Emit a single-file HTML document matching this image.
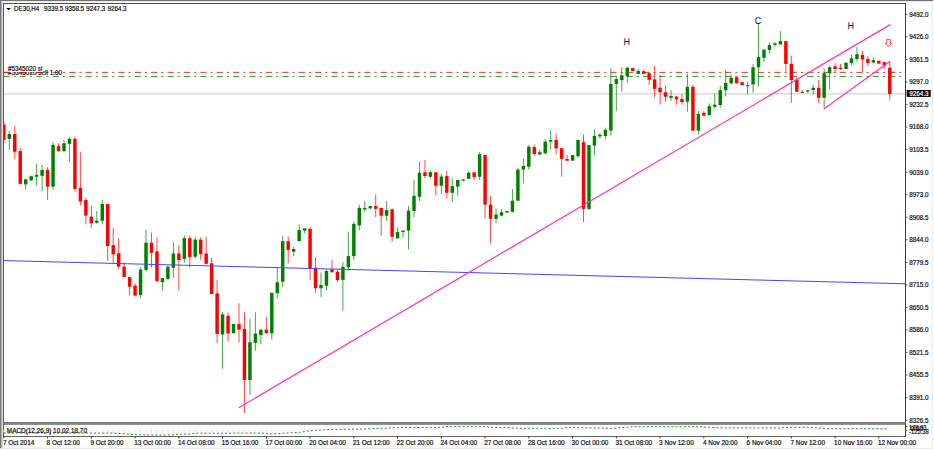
<!DOCTYPE html><html><head><meta charset="utf-8"><title>DE30,H4</title><style>
html,body{margin:0;padding:0;background:#fff;overflow:hidden}
svg{display:block;position:absolute;left:0;top:0}
text{font-family:"Liberation Sans",Arial,sans-serif;fill:#0a0a0a}
.ax{font-size:6.42px;stroke:#0a0a0a;stroke-width:0.18px}
.lb{text-rendering:geometricPrecision;font-size:9.8px;fill:#18172f}
</style></head><body>
<svg width="934" height="450" viewBox="0 0 934 450">
<rect x="0" y="0" width="934" height="450" fill="#fff"/>
<rect x="0" y="0" width="933" height="1" fill="#727272"/>
<rect x="0" y="0" width="1" height="448.3" fill="#767676"/>
<rect x="1" y="1" width="1" height="447.3" fill="#b4b4b4"/>
<rect x="2" y="1" width="1" height="447.3" fill="#dcdcdc"/>
<rect x="1" y="1" width="932" height="0.6" fill="#dcdcdc"/>
<rect x="1" y="447.8" width="931.5" height="0.9" fill="#e3e3e3"/>
<rect x="931.7" y="1" width="0.9" height="447.5" fill="#e6e6e6"/>
<defs><clipPath id="cp"><rect x="4" y="4" width="901" height="418"/></clipPath></defs>
<g clip-path="url(#cp)">
<line x1="4" y1="93.9" x2="905" y2="93.9" stroke="#c4c4c4" stroke-width="0.9"/>
<line x1="3.5" y1="72.4" x2="905" y2="72.4" stroke="#ff0000" stroke-width="0.82" stroke-dasharray="6.15 4.1 2.05 4.1"/>
<line x1="3.5" y1="76.42" x2="905" y2="76.42" stroke="#008000" stroke-width="0.82" stroke-dasharray="6.15 4.1 2.05 4.1"/>
<line x1="3.83" y1="121.0" x2="3.83" y2="143.0" stroke="#ff0000" stroke-width="0.72"/>
<rect x="2.11" y="124.4" width="3.44" height="15.6" fill="#ff0000"/>
<line x1="9.30" y1="131.1" x2="9.30" y2="150.0" stroke="#008000" stroke-width="0.72"/>
<rect x="7.58" y="134.0" width="3.44" height="4.9" fill="#008000"/>
<line x1="14.77" y1="126.2" x2="14.77" y2="158.9" stroke="#ff0000" stroke-width="0.72"/>
<rect x="13.05" y="134.0" width="3.44" height="17.8" fill="#ff0000"/>
<line x1="20.24" y1="147.8" x2="20.24" y2="184.4" stroke="#ff0000" stroke-width="0.72"/>
<rect x="18.52" y="151.1" width="3.44" height="32.7" fill="#ff0000"/>
<line x1="25.71" y1="179.3" x2="25.71" y2="189.6" stroke="#008000" stroke-width="0.72"/>
<rect x="23.99" y="179.3" width="3.44" height="5.1" fill="#008000"/>
<line x1="31.17" y1="175.5" x2="31.17" y2="181.1" stroke="#008000" stroke-width="0.72"/>
<rect x="29.45" y="176.2" width="3.44" height="4.2" fill="#008000"/>
<line x1="36.64" y1="164.0" x2="36.64" y2="185.6" stroke="#008000" stroke-width="0.72"/>
<rect x="34.92" y="174.9" width="3.44" height="1.8" fill="#008000"/>
<line x1="42.11" y1="164.9" x2="42.11" y2="191.3" stroke="#008000" stroke-width="0.72"/>
<rect x="40.39" y="170.0" width="3.44" height="5.8" fill="#008000"/>
<line x1="47.58" y1="167.3" x2="47.58" y2="200.0" stroke="#ff0000" stroke-width="0.72"/>
<rect x="45.86" y="170.0" width="3.44" height="16.7" fill="#ff0000"/>
<line x1="53.05" y1="142.2" x2="53.05" y2="190.0" stroke="#008000" stroke-width="0.72"/>
<rect x="51.33" y="144.9" width="3.44" height="41.8" fill="#008000"/>
<line x1="58.52" y1="143.3" x2="58.52" y2="151.8" stroke="#ff0000" stroke-width="0.72"/>
<rect x="56.80" y="146.2" width="3.44" height="4.9" fill="#ff0000"/>
<line x1="63.99" y1="140.0" x2="63.99" y2="151.8" stroke="#008000" stroke-width="0.72"/>
<rect x="62.27" y="143.3" width="3.44" height="7.8" fill="#008000"/>
<line x1="69.46" y1="136.7" x2="69.46" y2="161.6" stroke="#008000" stroke-width="0.72"/>
<rect x="67.74" y="138.9" width="3.44" height="4.9" fill="#008000"/>
<line x1="74.92" y1="136.7" x2="74.92" y2="191.6" stroke="#ff0000" stroke-width="0.72"/>
<rect x="73.20" y="138.9" width="3.44" height="50.0" fill="#ff0000"/>
<line x1="80.39" y1="151.8" x2="80.39" y2="205.6" stroke="#ff0000" stroke-width="0.72"/>
<rect x="78.67" y="187.8" width="3.44" height="13.8" fill="#ff0000"/>
<line x1="85.86" y1="197.8" x2="85.86" y2="224.4" stroke="#ff0000" stroke-width="0.72"/>
<rect x="84.14" y="200.0" width="3.44" height="15.6" fill="#ff0000"/>
<line x1="91.33" y1="205.6" x2="91.33" y2="227.8" stroke="#ff0000" stroke-width="0.72"/>
<rect x="89.61" y="216.7" width="3.44" height="6.6" fill="#ff0000"/>
<line x1="96.80" y1="211.1" x2="96.80" y2="223.8" stroke="#008000" stroke-width="0.72"/>
<rect x="95.08" y="220.7" width="3.44" height="2.0" fill="#008000"/>
<line x1="102.27" y1="199.6" x2="102.27" y2="224.4" stroke="#008000" stroke-width="0.72"/>
<rect x="100.55" y="204.0" width="3.44" height="16.7" fill="#008000"/>
<line x1="107.74" y1="204.0" x2="107.74" y2="261.0" stroke="#ff0000" stroke-width="0.72"/>
<rect x="106.02" y="204.0" width="3.44" height="42.0" fill="#ff0000"/>
<line x1="113.21" y1="227.8" x2="113.21" y2="263.3" stroke="#ff0000" stroke-width="0.72"/>
<rect x="111.49" y="245.1" width="3.44" height="9.3" fill="#ff0000"/>
<line x1="118.67" y1="238.2" x2="118.67" y2="268.9" stroke="#ff0000" stroke-width="0.72"/>
<rect x="116.95" y="253.3" width="3.44" height="13.4" fill="#ff0000"/>
<line x1="124.14" y1="262.2" x2="124.14" y2="277.0" stroke="#ff0000" stroke-width="0.72"/>
<rect x="122.42" y="266.7" width="3.44" height="10.3" fill="#ff0000"/>
<line x1="129.61" y1="277.2" x2="129.61" y2="295.1" stroke="#ff0000" stroke-width="0.72"/>
<rect x="127.89" y="277.2" width="3.44" height="9.5" fill="#ff0000"/>
<line x1="135.08" y1="283.3" x2="135.08" y2="295.6" stroke="#ff0000" stroke-width="0.72"/>
<rect x="133.36" y="285.6" width="3.44" height="10.0" fill="#ff0000"/>
<line x1="140.55" y1="267.3" x2="140.55" y2="297.8" stroke="#008000" stroke-width="0.72"/>
<rect x="138.83" y="269.5" width="3.44" height="25.6" fill="#008000"/>
<line x1="146.02" y1="230.0" x2="146.02" y2="271.6" stroke="#008000" stroke-width="0.72"/>
<rect x="144.30" y="242.7" width="3.44" height="27.3" fill="#008000"/>
<line x1="151.49" y1="232.7" x2="151.49" y2="267.5" stroke="#ff0000" stroke-width="0.72"/>
<rect x="149.77" y="242.7" width="3.44" height="10.1" fill="#ff0000"/>
<line x1="156.96" y1="237.3" x2="156.96" y2="282.2" stroke="#ff0000" stroke-width="0.72"/>
<rect x="155.24" y="251.4" width="3.44" height="29.7" fill="#ff0000"/>
<line x1="162.43" y1="278.0" x2="162.43" y2="290.7" stroke="#008000" stroke-width="0.72"/>
<rect x="160.71" y="278.0" width="3.44" height="4.2" fill="#008000"/>
<line x1="167.89" y1="265.6" x2="167.89" y2="280.0" stroke="#008000" stroke-width="0.72"/>
<rect x="166.17" y="266.7" width="3.44" height="12.2" fill="#008000"/>
<line x1="173.36" y1="242.2" x2="173.36" y2="277.8" stroke="#008000" stroke-width="0.72"/>
<rect x="171.64" y="253.5" width="3.44" height="14.3" fill="#008000"/>
<line x1="178.83" y1="245.6" x2="178.83" y2="290.7" stroke="#ff0000" stroke-width="0.72"/>
<rect x="177.11" y="253.5" width="3.44" height="6.5" fill="#ff0000"/>
<line x1="184.30" y1="235.6" x2="184.30" y2="262.7" stroke="#008000" stroke-width="0.72"/>
<rect x="182.58" y="238.2" width="3.44" height="20.7" fill="#008000"/>
<line x1="189.77" y1="235.6" x2="189.77" y2="267.8" stroke="#ff0000" stroke-width="0.72"/>
<rect x="188.05" y="238.2" width="3.44" height="18.9" fill="#ff0000"/>
<line x1="195.24" y1="236.7" x2="195.24" y2="258.7" stroke="#008000" stroke-width="0.72"/>
<rect x="193.52" y="239.6" width="3.44" height="17.1" fill="#008000"/>
<line x1="200.71" y1="237.3" x2="200.71" y2="260.0" stroke="#ff0000" stroke-width="0.72"/>
<rect x="198.99" y="239.6" width="3.44" height="14.6" fill="#ff0000"/>
<line x1="206.18" y1="236.7" x2="206.18" y2="264.4" stroke="#ff0000" stroke-width="0.72"/>
<rect x="204.46" y="253.5" width="3.44" height="10.3" fill="#ff0000"/>
<line x1="211.64" y1="257.8" x2="211.64" y2="294.4" stroke="#ff0000" stroke-width="0.72"/>
<rect x="209.92" y="263.3" width="3.44" height="30.7" fill="#ff0000"/>
<line x1="217.11" y1="280.0" x2="217.11" y2="343.3" stroke="#ff0000" stroke-width="0.72"/>
<rect x="215.39" y="293.3" width="3.44" height="40.7" fill="#ff0000"/>
<line x1="222.58" y1="312.2" x2="222.58" y2="368.9" stroke="#008000" stroke-width="0.72"/>
<rect x="220.86" y="314.4" width="3.44" height="20.0" fill="#008000"/>
<line x1="228.05" y1="312.4" x2="228.05" y2="341.6" stroke="#ff0000" stroke-width="0.72"/>
<rect x="226.33" y="315.8" width="3.44" height="17.7" fill="#ff0000"/>
<rect x="231.80" y="324.0" width="3.44" height="9.3" fill="#008000"/>
<line x1="238.99" y1="303.3" x2="238.99" y2="342.7" stroke="#ff0000" stroke-width="0.72"/>
<rect x="237.27" y="324.0" width="3.44" height="5.6" fill="#ff0000"/>
<line x1="244.46" y1="312.5" x2="244.46" y2="413.0" stroke="#ff0000" stroke-width="0.72"/>
<rect x="242.74" y="328.9" width="3.44" height="51.1" fill="#ff0000"/>
<line x1="249.93" y1="318.9" x2="249.93" y2="395.0" stroke="#008000" stroke-width="0.72"/>
<rect x="248.21" y="342.2" width="3.44" height="37.8" fill="#008000"/>
<line x1="255.39" y1="312.2" x2="255.39" y2="350.7" stroke="#008000" stroke-width="0.72"/>
<rect x="253.67" y="333.6" width="3.44" height="9.3" fill="#008000"/>
<line x1="260.86" y1="329.6" x2="260.86" y2="344.4" stroke="#008000" stroke-width="0.72"/>
<rect x="259.14" y="329.6" width="3.44" height="5.5" fill="#008000"/>
<line x1="266.33" y1="316.7" x2="266.33" y2="333.3" stroke="#ff0000" stroke-width="0.72"/>
<rect x="264.61" y="329.6" width="3.44" height="3.7" fill="#ff0000"/>
<line x1="271.80" y1="292.8" x2="271.80" y2="339.6" stroke="#008000" stroke-width="0.72"/>
<rect x="270.08" y="292.8" width="3.44" height="40.5" fill="#008000"/>
<line x1="277.27" y1="267.2" x2="277.27" y2="298.3" stroke="#008000" stroke-width="0.72"/>
<rect x="275.55" y="282.3" width="3.44" height="10.9" fill="#008000"/>
<line x1="282.74" y1="236.1" x2="282.74" y2="286.8" stroke="#008000" stroke-width="0.72"/>
<rect x="281.02" y="241.2" width="3.44" height="40.5" fill="#008000"/>
<line x1="288.21" y1="236.6" x2="288.21" y2="263.4" stroke="#ff0000" stroke-width="0.72"/>
<rect x="286.49" y="241.2" width="3.44" height="8.7" fill="#ff0000"/>
<line x1="293.68" y1="247.2" x2="293.68" y2="256.1" stroke="#008000" stroke-width="0.72"/>
<rect x="291.96" y="249.0" width="3.44" height="2.7" fill="#008000"/>
<line x1="299.15" y1="224.3" x2="299.15" y2="241.2" stroke="#008000" stroke-width="0.72"/>
<rect x="297.43" y="230.1" width="3.44" height="11.1" fill="#008000"/>
<line x1="304.61" y1="228.3" x2="304.61" y2="233.2" stroke="#008000" stroke-width="0.72"/>
<rect x="302.89" y="228.3" width="3.44" height="2.3" fill="#008000"/>
<line x1="310.08" y1="227.2" x2="310.08" y2="279.9" stroke="#ff0000" stroke-width="0.72"/>
<rect x="308.36" y="228.8" width="3.44" height="39.5" fill="#ff0000"/>
<line x1="315.55" y1="257.2" x2="315.55" y2="292.8" stroke="#ff0000" stroke-width="0.72"/>
<rect x="313.83" y="267.7" width="3.44" height="20.6" fill="#ff0000"/>
<line x1="321.02" y1="272.3" x2="321.02" y2="297.2" stroke="#008000" stroke-width="0.72"/>
<rect x="319.30" y="285.0" width="3.44" height="3.3" fill="#008000"/>
<line x1="326.49" y1="269.4" x2="326.49" y2="290.6" stroke="#008000" stroke-width="0.72"/>
<rect x="324.77" y="271.0" width="3.44" height="14.7" fill="#008000"/>
<line x1="331.96" y1="260.1" x2="331.96" y2="272.3" stroke="#ff0000" stroke-width="0.72"/>
<rect x="330.24" y="269.4" width="3.44" height="2.9" fill="#ff0000"/>
<line x1="337.43" y1="269.0" x2="337.43" y2="281.7" stroke="#ff0000" stroke-width="0.72"/>
<rect x="335.71" y="271.7" width="3.44" height="8.4" fill="#ff0000"/>
<line x1="342.90" y1="262.1" x2="342.90" y2="310.6" stroke="#008000" stroke-width="0.72"/>
<rect x="341.18" y="266.8" width="3.44" height="13.1" fill="#008000"/>
<line x1="348.36" y1="231.5" x2="348.36" y2="270.6" stroke="#008000" stroke-width="0.72"/>
<rect x="346.64" y="256.1" width="3.44" height="11.1" fill="#008000"/>
<line x1="353.83" y1="221.7" x2="353.83" y2="260.1" stroke="#008000" stroke-width="0.72"/>
<rect x="352.11" y="223.9" width="3.44" height="32.2" fill="#008000"/>
<line x1="359.30" y1="204.6" x2="359.30" y2="230.4" stroke="#008000" stroke-width="0.72"/>
<rect x="357.58" y="207.9" width="3.44" height="17.5" fill="#008000"/>
<line x1="364.77" y1="201.2" x2="364.77" y2="211.7" stroke="#008000" stroke-width="0.72"/>
<rect x="363.05" y="207.9" width="3.44" height="1.5" fill="#008000"/>
<line x1="370.24" y1="206.1" x2="370.24" y2="209.4" stroke="#008000" stroke-width="0.72"/>
<rect x="368.52" y="206.1" width="3.44" height="2.2" fill="#008000"/>
<line x1="375.71" y1="194.3" x2="375.71" y2="217.2" stroke="#ff0000" stroke-width="0.72"/>
<rect x="373.99" y="206.1" width="3.44" height="2.7" fill="#ff0000"/>
<line x1="381.18" y1="207.9" x2="381.18" y2="235.7" stroke="#ff0000" stroke-width="0.72"/>
<rect x="379.46" y="207.9" width="3.44" height="7.8" fill="#ff0000"/>
<line x1="386.65" y1="201.0" x2="386.65" y2="221.0" stroke="#008000" stroke-width="0.72"/>
<rect x="384.93" y="210.1" width="3.44" height="5.6" fill="#008000"/>
<line x1="392.11" y1="208.3" x2="392.11" y2="241.7" stroke="#ff0000" stroke-width="0.72"/>
<rect x="390.39" y="209.4" width="3.44" height="27.4" fill="#ff0000"/>
<line x1="397.58" y1="227.2" x2="397.58" y2="239.0" stroke="#008000" stroke-width="0.72"/>
<rect x="395.86" y="232.1" width="3.44" height="6.2" fill="#008000"/>
<line x1="403.05" y1="230.6" x2="403.05" y2="237.6" stroke="#008000" stroke-width="0.72"/>
<rect x="401.33" y="230.6" width="3.44" height="1.5" fill="#008000"/>
<line x1="408.52" y1="206.1" x2="408.52" y2="249.4" stroke="#008000" stroke-width="0.72"/>
<rect x="406.80" y="210.6" width="3.44" height="20.0" fill="#008000"/>
<line x1="413.99" y1="179.4" x2="413.99" y2="217.2" stroke="#008000" stroke-width="0.72"/>
<rect x="412.27" y="195.7" width="3.44" height="15.3" fill="#008000"/>
<line x1="419.46" y1="161.2" x2="419.46" y2="201.0" stroke="#008000" stroke-width="0.72"/>
<rect x="417.74" y="172.8" width="3.44" height="24.0" fill="#008000"/>
<line x1="424.93" y1="160.1" x2="424.93" y2="178.3" stroke="#ff0000" stroke-width="0.72"/>
<rect x="423.21" y="172.3" width="3.44" height="3.8" fill="#ff0000"/>
<line x1="430.40" y1="170.1" x2="430.40" y2="178.3" stroke="#008000" stroke-width="0.72"/>
<rect x="428.68" y="172.1" width="3.44" height="4.7" fill="#008000"/>
<line x1="435.87" y1="172.3" x2="435.87" y2="195.4" stroke="#ff0000" stroke-width="0.72"/>
<rect x="434.15" y="172.3" width="3.44" height="13.4" fill="#ff0000"/>
<line x1="441.33" y1="173.9" x2="441.33" y2="193.9" stroke="#008000" stroke-width="0.72"/>
<rect x="439.61" y="176.6" width="3.44" height="9.1" fill="#008000"/>
<line x1="446.80" y1="170.6" x2="446.80" y2="198.3" stroke="#ff0000" stroke-width="0.72"/>
<rect x="445.08" y="176.1" width="3.44" height="16.7" fill="#ff0000"/>
<line x1="452.27" y1="178.3" x2="452.27" y2="202.1" stroke="#008000" stroke-width="0.72"/>
<rect x="450.55" y="186.1" width="3.44" height="6.7" fill="#008000"/>
<line x1="457.74" y1="179.9" x2="457.74" y2="195.7" stroke="#008000" stroke-width="0.72"/>
<rect x="456.02" y="179.9" width="3.44" height="6.7" fill="#008000"/>
<line x1="463.21" y1="179.4" x2="463.21" y2="181.7" stroke="#008000" stroke-width="0.72"/>
<rect x="461.49" y="179.4" width="3.44" height="1.2" fill="#008000"/>
<line x1="468.68" y1="171.0" x2="468.68" y2="178.8" stroke="#008000" stroke-width="0.72"/>
<rect x="466.96" y="172.8" width="3.44" height="6.0" fill="#008000"/>
<line x1="474.15" y1="172.3" x2="474.15" y2="179.9" stroke="#ff0000" stroke-width="0.72"/>
<rect x="472.43" y="172.3" width="3.44" height="4.9" fill="#ff0000"/>
<line x1="479.62" y1="152.3" x2="479.62" y2="179.9" stroke="#008000" stroke-width="0.72"/>
<rect x="477.90" y="154.3" width="3.44" height="22.5" fill="#008000"/>
<line x1="485.08" y1="155.0" x2="485.08" y2="218.3" stroke="#ff0000" stroke-width="0.72"/>
<rect x="483.36" y="155.0" width="3.44" height="49.6" fill="#ff0000"/>
<line x1="490.55" y1="196.1" x2="490.55" y2="243.4" stroke="#ff0000" stroke-width="0.72"/>
<rect x="488.83" y="204.6" width="3.44" height="14.2" fill="#ff0000"/>
<line x1="496.02" y1="208.5" x2="496.02" y2="223.3" stroke="#008000" stroke-width="0.72"/>
<rect x="494.30" y="214.6" width="3.44" height="4.3" fill="#008000"/>
<line x1="501.49" y1="208.9" x2="501.49" y2="216.2" stroke="#008000" stroke-width="0.72"/>
<rect x="499.77" y="212.2" width="3.44" height="3.4" fill="#008000"/>
<rect x="505.24" y="211.1" width="3.44" height="1.6" fill="#008000"/>
<line x1="512.43" y1="188.9" x2="512.43" y2="212.7" stroke="#008000" stroke-width="0.72"/>
<rect x="510.71" y="200.7" width="3.44" height="11.1" fill="#008000"/>
<line x1="517.90" y1="167.8" x2="517.90" y2="201.1" stroke="#008000" stroke-width="0.72"/>
<rect x="516.18" y="169.6" width="3.44" height="31.1" fill="#008000"/>
<line x1="523.37" y1="158.9" x2="523.37" y2="183.3" stroke="#008000" stroke-width="0.72"/>
<rect x="521.65" y="166.0" width="3.44" height="3.6" fill="#008000"/>
<line x1="528.83" y1="145.1" x2="528.83" y2="169.6" stroke="#008000" stroke-width="0.72"/>
<rect x="527.11" y="146.7" width="3.44" height="20.0" fill="#008000"/>
<line x1="534.30" y1="144.4" x2="534.30" y2="155.6" stroke="#ff0000" stroke-width="0.72"/>
<rect x="532.58" y="147.1" width="3.44" height="6.9" fill="#ff0000"/>
<line x1="539.77" y1="149.6" x2="539.77" y2="155.6" stroke="#008000" stroke-width="0.72"/>
<rect x="538.05" y="152.2" width="3.44" height="2.2" fill="#008000"/>
<line x1="545.24" y1="138.9" x2="545.24" y2="154.4" stroke="#008000" stroke-width="0.72"/>
<rect x="543.52" y="141.6" width="3.44" height="11.7" fill="#008000"/>
<line x1="550.71" y1="130.0" x2="550.71" y2="149.6" stroke="#008000" stroke-width="0.72"/>
<rect x="548.99" y="140.0" width="3.44" height="1.6" fill="#008000"/>
<line x1="556.18" y1="134.0" x2="556.18" y2="154.4" stroke="#ff0000" stroke-width="0.72"/>
<rect x="554.46" y="140.0" width="3.44" height="8.4" fill="#ff0000"/>
<line x1="561.65" y1="148.2" x2="561.65" y2="176.7" stroke="#ff0000" stroke-width="0.72"/>
<rect x="559.93" y="148.2" width="3.44" height="10.7" fill="#ff0000"/>
<line x1="567.12" y1="154.9" x2="567.12" y2="160.7" stroke="#ff0000" stroke-width="0.72"/>
<rect x="565.40" y="158.9" width="3.44" height="1.8" fill="#ff0000"/>
<rect x="570.87" y="155.1" width="3.44" height="5.6" fill="#008000"/>
<line x1="578.05" y1="140.0" x2="578.05" y2="157.8" stroke="#008000" stroke-width="0.72"/>
<rect x="576.33" y="140.0" width="3.44" height="16.2" fill="#008000"/>
<line x1="583.52" y1="134.4" x2="583.52" y2="222.2" stroke="#ff0000" stroke-width="0.72"/>
<rect x="581.80" y="142.2" width="3.44" height="66.7" fill="#ff0000"/>
<line x1="588.99" y1="145.1" x2="588.99" y2="210.0" stroke="#008000" stroke-width="0.72"/>
<rect x="587.27" y="145.1" width="3.44" height="63.8" fill="#008000"/>
<line x1="594.46" y1="129.4" x2="594.46" y2="155.6" stroke="#008000" stroke-width="0.72"/>
<rect x="592.74" y="135.9" width="3.44" height="9.7" fill="#008000"/>
<line x1="599.93" y1="133.3" x2="599.93" y2="138.6" stroke="#008000" stroke-width="0.72"/>
<rect x="598.21" y="134.7" width="3.44" height="1.7" fill="#008000"/>
<line x1="605.40" y1="127.7" x2="605.40" y2="139.4" stroke="#008000" stroke-width="0.72"/>
<rect x="603.68" y="129.9" width="3.44" height="6.1" fill="#008000"/>
<line x1="610.87" y1="68.3" x2="610.87" y2="135.7" stroke="#008000" stroke-width="0.72"/>
<rect x="609.15" y="83.9" width="3.44" height="46.7" fill="#008000"/>
<line x1="616.34" y1="76.1" x2="616.34" y2="111.2" stroke="#008000" stroke-width="0.72"/>
<rect x="614.62" y="79.0" width="3.44" height="4.9" fill="#008000"/>
<line x1="621.80" y1="67.2" x2="621.80" y2="91.7" stroke="#008000" stroke-width="0.72"/>
<rect x="620.08" y="75.4" width="3.44" height="4.7" fill="#008000"/>
<line x1="627.27" y1="66.6" x2="627.27" y2="83.2" stroke="#008000" stroke-width="0.72"/>
<rect x="625.55" y="67.7" width="3.44" height="8.4" fill="#008000"/>
<rect x="631.02" y="67.9" width="3.44" height="3.1" fill="#ff0000"/>
<line x1="638.21" y1="69.0" x2="638.21" y2="73.9" stroke="#008000" stroke-width="0.72"/>
<rect x="636.49" y="71.0" width="3.44" height="2.9" fill="#008000"/>
<line x1="643.68" y1="69.9" x2="643.68" y2="73.9" stroke="#ff0000" stroke-width="0.72"/>
<rect x="641.96" y="71.2" width="3.44" height="2.7" fill="#ff0000"/>
<line x1="649.15" y1="71.7" x2="649.15" y2="85.0" stroke="#ff0000" stroke-width="0.72"/>
<rect x="647.43" y="73.2" width="3.44" height="6.7" fill="#ff0000"/>
<line x1="654.62" y1="65.4" x2="654.62" y2="97.2" stroke="#ff0000" stroke-width="0.72"/>
<rect x="652.90" y="79.4" width="3.44" height="9.4" fill="#ff0000"/>
<line x1="660.09" y1="75.0" x2="660.09" y2="104.6" stroke="#ff0000" stroke-width="0.72"/>
<rect x="658.37" y="87.7" width="3.44" height="4.6" fill="#ff0000"/>
<line x1="665.55" y1="85.7" x2="665.55" y2="101.7" stroke="#ff0000" stroke-width="0.72"/>
<rect x="663.83" y="92.3" width="3.44" height="4.5" fill="#ff0000"/>
<line x1="671.02" y1="90.1" x2="671.02" y2="100.6" stroke="#008000" stroke-width="0.72"/>
<rect x="669.30" y="96.1" width="3.44" height="1.8" fill="#008000"/>
<line x1="676.49" y1="95.7" x2="676.49" y2="104.6" stroke="#ff0000" stroke-width="0.72"/>
<rect x="674.77" y="96.6" width="3.44" height="2.8" fill="#ff0000"/>
<line x1="681.96" y1="93.9" x2="681.96" y2="104.6" stroke="#ff0000" stroke-width="0.72"/>
<rect x="680.24" y="99.0" width="3.44" height="3.1" fill="#ff0000"/>
<line x1="687.43" y1="73.9" x2="687.43" y2="111.7" stroke="#008000" stroke-width="0.72"/>
<rect x="685.71" y="86.8" width="3.44" height="14.9" fill="#008000"/>
<line x1="692.90" y1="85.0" x2="692.90" y2="130.6" stroke="#ff0000" stroke-width="0.72"/>
<rect x="691.18" y="86.8" width="3.44" height="43.8" fill="#ff0000"/>
<line x1="698.37" y1="111.0" x2="698.37" y2="134.6" stroke="#008000" stroke-width="0.72"/>
<rect x="696.65" y="113.9" width="3.44" height="16.7" fill="#008000"/>
<line x1="703.84" y1="111.2" x2="703.84" y2="116.6" stroke="#ff0000" stroke-width="0.72"/>
<rect x="702.12" y="112.8" width="3.44" height="2.9" fill="#ff0000"/>
<line x1="709.31" y1="103.4" x2="709.31" y2="115.7" stroke="#008000" stroke-width="0.72"/>
<rect x="707.59" y="106.1" width="3.44" height="8.9" fill="#008000"/>
<line x1="714.77" y1="93.4" x2="714.77" y2="108.8" stroke="#008000" stroke-width="0.72"/>
<rect x="713.05" y="104.7" width="3.44" height="2.1" fill="#008000"/>
<line x1="720.24" y1="85.8" x2="720.24" y2="107.7" stroke="#008000" stroke-width="0.72"/>
<rect x="718.52" y="90.1" width="3.44" height="14.9" fill="#008000"/>
<line x1="725.71" y1="70.1" x2="725.71" y2="96.6" stroke="#008000" stroke-width="0.72"/>
<rect x="723.99" y="83.0" width="3.44" height="7.2" fill="#008000"/>
<line x1="731.18" y1="74.4" x2="731.18" y2="84.4" stroke="#008000" stroke-width="0.72"/>
<rect x="729.46" y="77.8" width="3.44" height="5.5" fill="#008000"/>
<line x1="736.65" y1="76.2" x2="736.65" y2="83.3" stroke="#ff0000" stroke-width="0.72"/>
<rect x="734.93" y="77.3" width="3.44" height="6.0" fill="#ff0000"/>
<rect x="740.40" y="82.2" width="3.44" height="2.9" fill="#ff0000"/>
<line x1="747.59" y1="81.6" x2="747.59" y2="94.4" stroke="#008000" stroke-width="0.72"/>
<rect x="745.87" y="85.1" width="3.44" height="1.1" fill="#008000"/>
<line x1="753.06" y1="64.0" x2="753.06" y2="92.7" stroke="#008000" stroke-width="0.72"/>
<rect x="751.34" y="67.3" width="3.44" height="17.1" fill="#008000"/>
<line x1="758.52" y1="24.4" x2="758.52" y2="86.7" stroke="#008000" stroke-width="0.72"/>
<rect x="756.80" y="57.1" width="3.44" height="10.2" fill="#008000"/>
<line x1="763.99" y1="49.6" x2="763.99" y2="62.2" stroke="#008000" stroke-width="0.72"/>
<rect x="762.27" y="49.6" width="3.44" height="8.2" fill="#008000"/>
<line x1="769.46" y1="42.2" x2="769.46" y2="53.3" stroke="#008000" stroke-width="0.72"/>
<rect x="767.74" y="45.1" width="3.44" height="4.9" fill="#008000"/>
<line x1="774.93" y1="42.2" x2="774.93" y2="46.7" stroke="#008000" stroke-width="0.72"/>
<rect x="773.21" y="43.3" width="3.44" height="1.6" fill="#008000"/>
<line x1="780.40" y1="31.1" x2="780.40" y2="44.4" stroke="#008000" stroke-width="0.72"/>
<rect x="778.68" y="41.1" width="3.44" height="3.3" fill="#008000"/>
<line x1="785.87" y1="41.1" x2="785.87" y2="71.8" stroke="#ff0000" stroke-width="0.72"/>
<rect x="784.15" y="41.1" width="3.44" height="22.9" fill="#ff0000"/>
<line x1="791.34" y1="55.6" x2="791.34" y2="102.9" stroke="#ff0000" stroke-width="0.72"/>
<rect x="789.62" y="63.8" width="3.44" height="16.2" fill="#ff0000"/>
<line x1="796.81" y1="76.7" x2="796.81" y2="91.8" stroke="#ff0000" stroke-width="0.72"/>
<rect x="795.09" y="80.0" width="3.44" height="11.8" fill="#ff0000"/>
<line x1="802.27" y1="90.3" x2="802.27" y2="92.4" stroke="#222" stroke-width="0.8"/>
<rect x="800.55" y="91.9" width="3.44" height="0.8" fill="#222"/>
<line x1="807.74" y1="90.6" x2="807.74" y2="93.3" stroke="#008000" stroke-width="0.8"/>
<rect x="806.02" y="90.3" width="3.44" height="1.1" fill="#008000"/>
<line x1="813.21" y1="85.1" x2="813.21" y2="94.4" stroke="#008000" stroke-width="0.72"/>
<rect x="811.49" y="87.8" width="3.44" height="2.2" fill="#008000"/>
<line x1="818.68" y1="80.0" x2="818.68" y2="102.9" stroke="#ff0000" stroke-width="0.72"/>
<rect x="816.96" y="87.8" width="3.44" height="10.0" fill="#ff0000"/>
<line x1="824.15" y1="68.5" x2="824.15" y2="108.3" stroke="#008000" stroke-width="0.72"/>
<rect x="822.43" y="73.2" width="3.44" height="24.5" fill="#008000"/>
<line x1="829.62" y1="65.5" x2="829.62" y2="89.2" stroke="#008000" stroke-width="0.72"/>
<rect x="827.90" y="67.2" width="3.44" height="6.0" fill="#008000"/>
<line x1="835.09" y1="63.0" x2="835.09" y2="72.5" stroke="#ff0000" stroke-width="0.72"/>
<rect x="833.37" y="66.3" width="3.44" height="2.7" fill="#ff0000"/>
<line x1="840.56" y1="64.0" x2="840.56" y2="69.8" stroke="#ff0000" stroke-width="0.72"/>
<rect x="838.84" y="67.7" width="3.44" height="1.3" fill="#ff0000"/>
<line x1="846.03" y1="62.0" x2="846.03" y2="69.0" stroke="#008000" stroke-width="0.72"/>
<rect x="844.31" y="62.9" width="3.44" height="6.1" fill="#008000"/>
<line x1="851.49" y1="54.7" x2="851.49" y2="65.4" stroke="#008000" stroke-width="0.72"/>
<rect x="849.77" y="58.3" width="3.44" height="4.7" fill="#008000"/>
<line x1="856.96" y1="47.0" x2="856.96" y2="61.7" stroke="#008000" stroke-width="0.72"/>
<rect x="855.24" y="54.2" width="3.44" height="4.8" fill="#008000"/>
<line x1="862.43" y1="50.8" x2="862.43" y2="72.3" stroke="#ff0000" stroke-width="0.72"/>
<rect x="860.71" y="54.9" width="3.44" height="4.6" fill="#ff0000"/>
<line x1="867.90" y1="56.0" x2="867.90" y2="66.0" stroke="#ff0000" stroke-width="0.72"/>
<rect x="866.18" y="59.0" width="3.44" height="3.9" fill="#ff0000"/>
<line x1="873.37" y1="57.7" x2="873.37" y2="63.6" stroke="#008000" stroke-width="0.72"/>
<rect x="871.65" y="60.1" width="3.44" height="2.3" fill="#008000"/>
<line x1="878.84" y1="60.7" x2="878.84" y2="64.2" stroke="#ff0000" stroke-width="0.72"/>
<rect x="877.12" y="60.7" width="3.44" height="2.9" fill="#ff0000"/>
<line x1="884.31" y1="62.1" x2="884.31" y2="69.0" stroke="#ff0000" stroke-width="0.72"/>
<rect x="882.59" y="62.1" width="3.44" height="3.4" fill="#ff0000"/>
<line x1="889.78" y1="61.5" x2="889.78" y2="100.6" stroke="#ff0000" stroke-width="0.72"/>
<rect x="888.06" y="67.7" width="3.44" height="26.2" fill="#ff0000"/>
<line x1="4" y1="260.6" x2="905" y2="283.8" stroke="#4646fb" stroke-width="1.0"/>
<line x1="239.2" y1="407.5" x2="889.8" y2="24.9" stroke="#ff38a6" stroke-width="1.22" stroke-linecap="round"/>
<line x1="824.3" y1="108.7" x2="889.7" y2="61.6" stroke="#ff38a6" stroke-width="1.22" stroke-linecap="round"/>
<path d="M886.8 39.6 H890.2 V43.2 H891.9 L888.5 46.8 L885.1 43.2 H886.8 Z" fill="#fff" stroke="#ff0000" stroke-width="0.75" stroke-linejoin="miter"/>
</g>
<text class="lb" x="623.4" y="44.6" textLength="6.57" lengthAdjust="spacingAndGlyphs">H</text>
<text class="lb" x="754.7" y="23.8" textLength="6.57" lengthAdjust="spacingAndGlyphs">C</text>
<text class="lb" x="847.5" y="28.5" textLength="6.57" lengthAdjust="spacingAndGlyphs">H</text>
<text class="ax" x="8.1" y="75.2" textLength="54" lengthAdjust="spacingAndGlyphs">#5345020 sell 1.00</text>
<line x1="3.5" y1="72.4" x2="44" y2="72.4" stroke="#ff0000" stroke-width="0.82" stroke-dasharray="6.15 4.1 2.05 4.1"/>
<rect x="7.6" y="64" width="35.6" height="7.95" fill="#fff"/>
<text class="ax" x="8.1" y="70.9" textLength="34.3" lengthAdjust="spacingAndGlyphs">#5345020 sl</text>
<path d="M6.2 7.9 H10.8 L8.5 10.2 Z" fill="#000"/>
<text class="ax" x="14.0" y="11.3" textLength="25.3" lengthAdjust="spacingAndGlyphs">DE30,H4</text>
<text class="ax" x="44.1" y="11.3" textLength="19.0" lengthAdjust="spacingAndGlyphs">9339.5</text>
<text class="ax" x="65.0" y="11.3" textLength="19.1" lengthAdjust="spacingAndGlyphs">9358.5</text>
<text class="ax" x="86.3" y="11.3" textLength="18.9" lengthAdjust="spacingAndGlyphs">9247.3</text>
<text class="ax" x="107.6" y="11.3" textLength="18.9" lengthAdjust="spacingAndGlyphs">9264.3</text>
<rect x="3" y="3" width="903" height="1" fill="#4c4c4c"/>
<rect x="3" y="3" width="1" height="434" fill="#585858"/>
<rect x="905" y="3" width="1" height="434" fill="#3c3c3c"/>
<rect x="3" y="422.0" width="903" height="0.8" fill="#505050"/>
<rect x="3" y="422.8" width="903" height="1.0" fill="#808080"/>
<rect x="3" y="423.8" width="903" height="0.8" fill="#4a4a4a"/>
<rect x="3" y="436.0" width="903" height="0.8" fill="#3c3c3c"/>
<rect x="906" y="13.90" width="1.4" height="0.8" fill="#3c3c3c"/>
<text class="ax" x="909.3" y="16.6" textLength="19.3" lengthAdjust="spacingAndGlyphs">9492.0</text>
<rect x="906" y="36.45" width="1.4" height="0.8" fill="#3c3c3c"/>
<text class="ax" x="909.3" y="39.1" textLength="19.3" lengthAdjust="spacingAndGlyphs">9426.0</text>
<rect x="906" y="59.00" width="1.4" height="0.8" fill="#3c3c3c"/>
<text class="ax" x="909.3" y="61.7" textLength="19.3" lengthAdjust="spacingAndGlyphs">9361.5</text>
<rect x="906" y="81.55" width="1.4" height="0.8" fill="#3c3c3c"/>
<text class="ax" x="909.3" y="84.2" textLength="19.3" lengthAdjust="spacingAndGlyphs">9297.0</text>
<rect x="906" y="104.10" width="1.4" height="0.8" fill="#3c3c3c"/>
<text class="ax" x="909.3" y="106.8" textLength="19.3" lengthAdjust="spacingAndGlyphs">9232.5</text>
<rect x="906" y="126.65" width="1.4" height="0.8" fill="#3c3c3c"/>
<text class="ax" x="909.3" y="129.3" textLength="19.3" lengthAdjust="spacingAndGlyphs">9168.0</text>
<rect x="906" y="149.20" width="1.4" height="0.8" fill="#3c3c3c"/>
<text class="ax" x="909.3" y="151.9" textLength="19.3" lengthAdjust="spacingAndGlyphs">9103.5</text>
<rect x="906" y="171.75" width="1.4" height="0.8" fill="#3c3c3c"/>
<text class="ax" x="909.3" y="174.5" textLength="19.3" lengthAdjust="spacingAndGlyphs">9039.0</text>
<rect x="906" y="194.30" width="1.4" height="0.8" fill="#3c3c3c"/>
<text class="ax" x="909.3" y="197.0" textLength="19.3" lengthAdjust="spacingAndGlyphs">8973.0</text>
<rect x="906" y="216.85" width="1.4" height="0.8" fill="#3c3c3c"/>
<text class="ax" x="909.3" y="219.6" textLength="19.3" lengthAdjust="spacingAndGlyphs">8908.5</text>
<rect x="906" y="239.40" width="1.4" height="0.8" fill="#3c3c3c"/>
<text class="ax" x="909.3" y="242.1" textLength="19.3" lengthAdjust="spacingAndGlyphs">8844.0</text>
<rect x="906" y="261.95" width="1.4" height="0.8" fill="#3c3c3c"/>
<text class="ax" x="909.3" y="264.7" textLength="19.3" lengthAdjust="spacingAndGlyphs">8779.5</text>
<rect x="906" y="284.50" width="1.4" height="0.8" fill="#3c3c3c"/>
<text class="ax" x="909.3" y="287.2" textLength="19.3" lengthAdjust="spacingAndGlyphs">8715.0</text>
<rect x="906" y="307.05" width="1.4" height="0.8" fill="#3c3c3c"/>
<text class="ax" x="909.3" y="309.8" textLength="19.3" lengthAdjust="spacingAndGlyphs">8650.5</text>
<rect x="906" y="329.60" width="1.4" height="0.8" fill="#3c3c3c"/>
<text class="ax" x="909.3" y="332.3" textLength="19.3" lengthAdjust="spacingAndGlyphs">8586.0</text>
<rect x="906" y="352.15" width="1.4" height="0.8" fill="#3c3c3c"/>
<text class="ax" x="909.3" y="354.9" textLength="19.3" lengthAdjust="spacingAndGlyphs">8521.5</text>
<rect x="906" y="374.70" width="1.4" height="0.8" fill="#3c3c3c"/>
<text class="ax" x="909.3" y="377.4" textLength="19.3" lengthAdjust="spacingAndGlyphs">8455.5</text>
<rect x="906" y="397.25" width="1.4" height="0.8" fill="#3c3c3c"/>
<text class="ax" x="909.3" y="400.0" textLength="19.3" lengthAdjust="spacingAndGlyphs">8391.0</text>
<rect x="906" y="419.80" width="1.4" height="0.8" fill="#3c3c3c"/>
<text class="ax" x="909.3" y="422.5" textLength="19.3" lengthAdjust="spacingAndGlyphs">8326.5</text>
<rect x="906.7" y="90.0" width="24" height="6.9" fill="#000"/>
<text class="ax" x="909.3" y="95.8" textLength="19.3" lengthAdjust="spacingAndGlyphs" style="fill:#fff;stroke:#fff">9264.3</text>
<rect x="3.30" y="436.6" width="1.0" height="1.9" fill="#3c3c3c"/>
<text class="ax" x="2.9" y="444.9" textLength="31.41" lengthAdjust="spacingAndGlyphs">7 Oct 2014</text>
<rect x="47.05" y="436.6" width="1.0" height="1.9" fill="#3c3c3c"/>
<text class="ax" x="46.6" y="444.9" textLength="33.19" lengthAdjust="spacingAndGlyphs">8 Oct 12:00</text>
<rect x="90.80" y="436.6" width="1.0" height="1.9" fill="#3c3c3c"/>
<text class="ax" x="90.4" y="444.9" textLength="33.19" lengthAdjust="spacingAndGlyphs">9 Oct 20:00</text>
<rect x="134.55" y="436.6" width="1.0" height="1.9" fill="#3c3c3c"/>
<text class="ax" x="134.2" y="444.9" textLength="36.76" lengthAdjust="spacingAndGlyphs">13 Oct 00:00</text>
<rect x="178.30" y="436.6" width="1.0" height="1.9" fill="#3c3c3c"/>
<text class="ax" x="177.9" y="444.9" textLength="36.76" lengthAdjust="spacingAndGlyphs">14 Oct 08:00</text>
<rect x="222.05" y="436.6" width="1.0" height="1.9" fill="#3c3c3c"/>
<text class="ax" x="221.7" y="444.9" textLength="36.76" lengthAdjust="spacingAndGlyphs">15 Oct 16:00</text>
<rect x="265.80" y="436.6" width="1.0" height="1.9" fill="#3c3c3c"/>
<text class="ax" x="265.4" y="444.9" textLength="36.76" lengthAdjust="spacingAndGlyphs">17 Oct 00:00</text>
<rect x="309.55" y="436.6" width="1.0" height="1.9" fill="#3c3c3c"/>
<text class="ax" x="309.2" y="444.9" textLength="36.76" lengthAdjust="spacingAndGlyphs">20 Oct 04:00</text>
<rect x="353.30" y="436.6" width="1.0" height="1.9" fill="#3c3c3c"/>
<text class="ax" x="352.9" y="444.9" textLength="36.76" lengthAdjust="spacingAndGlyphs">21 Oct 12:00</text>
<rect x="397.05" y="436.6" width="1.0" height="1.9" fill="#3c3c3c"/>
<text class="ax" x="396.7" y="444.9" textLength="36.76" lengthAdjust="spacingAndGlyphs">22 Oct 20:00</text>
<rect x="440.80" y="436.6" width="1.0" height="1.9" fill="#3c3c3c"/>
<text class="ax" x="440.4" y="444.9" textLength="36.76" lengthAdjust="spacingAndGlyphs">24 Oct 04:00</text>
<rect x="484.55" y="436.6" width="1.0" height="1.9" fill="#3c3c3c"/>
<text class="ax" x="484.2" y="444.9" textLength="36.76" lengthAdjust="spacingAndGlyphs">27 Oct 08:00</text>
<rect x="528.30" y="436.6" width="1.0" height="1.9" fill="#3c3c3c"/>
<text class="ax" x="527.9" y="444.9" textLength="36.76" lengthAdjust="spacingAndGlyphs">28 Oct 16:00</text>
<rect x="572.05" y="436.6" width="1.0" height="1.9" fill="#3c3c3c"/>
<text class="ax" x="571.6" y="444.9" textLength="36.76" lengthAdjust="spacingAndGlyphs">30 Oct 00:00</text>
<rect x="615.80" y="436.6" width="1.0" height="1.9" fill="#3c3c3c"/>
<text class="ax" x="615.4" y="444.9" textLength="36.76" lengthAdjust="spacingAndGlyphs">31 Oct 08:00</text>
<rect x="659.55" y="436.6" width="1.0" height="1.9" fill="#3c3c3c"/>
<text class="ax" x="659.1" y="444.9" textLength="34.62" lengthAdjust="spacingAndGlyphs">3 Nov 12:00</text>
<rect x="703.30" y="436.6" width="1.0" height="1.9" fill="#3c3c3c"/>
<text class="ax" x="702.9" y="444.9" textLength="34.62" lengthAdjust="spacingAndGlyphs">4 Nov 20:00</text>
<rect x="747.05" y="436.6" width="1.0" height="1.9" fill="#3c3c3c"/>
<text class="ax" x="746.6" y="444.9" textLength="34.62" lengthAdjust="spacingAndGlyphs">6 Nov 04:00</text>
<rect x="790.80" y="436.6" width="1.0" height="1.9" fill="#3c3c3c"/>
<text class="ax" x="790.4" y="444.9" textLength="34.62" lengthAdjust="spacingAndGlyphs">7 Nov 12:00</text>
<rect x="834.55" y="436.6" width="1.0" height="1.9" fill="#3c3c3c"/>
<text class="ax" x="834.1" y="444.9" textLength="38.19" lengthAdjust="spacingAndGlyphs">10 Nov 16:00</text>
<rect x="878.30" y="436.6" width="1.0" height="1.9" fill="#3c3c3c"/>
<text class="ax" x="877.9" y="444.9" textLength="38.19" lengthAdjust="spacingAndGlyphs">12 Nov 00:00</text>
<g>
<line x1="3.83" y1="429.4" x2="3.83" y2="432.6" stroke="#d9d9d9" stroke-width="0.8"/>
<line x1="9.30" y1="429.4" x2="9.30" y2="432.6" stroke="#d9d9d9" stroke-width="0.8"/>
<line x1="14.77" y1="429.4" x2="14.77" y2="432.6" stroke="#d9d9d9" stroke-width="0.8"/>
<line x1="20.24" y1="429.4" x2="20.24" y2="432.6" stroke="#d9d9d9" stroke-width="0.8"/>
<line x1="25.71" y1="429.4" x2="25.71" y2="432.6" stroke="#d9d9d9" stroke-width="0.8"/>
<line x1="31.17" y1="429.4" x2="31.17" y2="432.6" stroke="#d9d9d9" stroke-width="0.8"/>
<line x1="36.64" y1="429.4" x2="36.64" y2="432.6" stroke="#d9d9d9" stroke-width="0.8"/>
<line x1="42.11" y1="429.4" x2="42.11" y2="432.6" stroke="#d9d9d9" stroke-width="0.8"/>
<line x1="47.58" y1="429.4" x2="47.58" y2="432.6" stroke="#d9d9d9" stroke-width="0.8"/>
<line x1="53.05" y1="429.4" x2="53.05" y2="432.6" stroke="#d9d9d9" stroke-width="0.8"/>
<line x1="58.52" y1="429.4" x2="58.52" y2="432.6" stroke="#d9d9d9" stroke-width="0.8"/>
<line x1="63.99" y1="429.4" x2="63.99" y2="432.6" stroke="#d9d9d9" stroke-width="0.8"/>
<line x1="69.46" y1="429.4" x2="69.46" y2="432.6" stroke="#d9d9d9" stroke-width="0.8"/>
<line x1="74.92" y1="429.4" x2="74.92" y2="432.6" stroke="#d9d9d9" stroke-width="0.8"/>
<line x1="80.39" y1="429.4" x2="80.39" y2="432.6" stroke="#d9d9d9" stroke-width="0.8"/>
<line x1="85.86" y1="429.4" x2="85.86" y2="432.6" stroke="#d9d9d9" stroke-width="0.8"/>
<line x1="91.33" y1="429.4" x2="91.33" y2="432.6" stroke="#d9d9d9" stroke-width="0.8"/>
<line x1="96.80" y1="429.4" x2="96.80" y2="432.6" stroke="#d9d9d9" stroke-width="0.8"/>
<line x1="102.27" y1="429.4" x2="102.27" y2="432.6" stroke="#d9d9d9" stroke-width="0.8"/>
<line x1="107.74" y1="429.4" x2="107.74" y2="432.6" stroke="#d9d9d9" stroke-width="0.8"/>
<line x1="113.21" y1="429.4" x2="113.21" y2="432.8" stroke="#d9d9d9" stroke-width="0.8"/>
<line x1="118.67" y1="429.4" x2="118.67" y2="433.2" stroke="#d9d9d9" stroke-width="0.8"/>
<line x1="124.14" y1="429.4" x2="124.14" y2="433.6" stroke="#d9d9d9" stroke-width="0.8"/>
<line x1="129.61" y1="429.4" x2="129.61" y2="434.0" stroke="#d9d9d9" stroke-width="0.8"/>
<line x1="135.08" y1="429.4" x2="135.08" y2="434.0" stroke="#d9d9d9" stroke-width="0.8"/>
<line x1="140.55" y1="429.4" x2="140.55" y2="434.0" stroke="#d9d9d9" stroke-width="0.8"/>
<line x1="146.02" y1="429.4" x2="146.02" y2="434.0" stroke="#d9d9d9" stroke-width="0.8"/>
<line x1="151.49" y1="429.4" x2="151.49" y2="434.0" stroke="#d9d9d9" stroke-width="0.8"/>
<line x1="156.96" y1="429.4" x2="156.96" y2="434.0" stroke="#d9d9d9" stroke-width="0.8"/>
<line x1="162.43" y1="429.4" x2="162.43" y2="434.0" stroke="#d9d9d9" stroke-width="0.8"/>
<line x1="167.89" y1="429.4" x2="167.89" y2="434.0" stroke="#d9d9d9" stroke-width="0.8"/>
<line x1="173.36" y1="429.4" x2="173.36" y2="434.0" stroke="#d9d9d9" stroke-width="0.8"/>
<line x1="178.83" y1="429.4" x2="178.83" y2="434.0" stroke="#d9d9d9" stroke-width="0.8"/>
<line x1="184.30" y1="429.4" x2="184.30" y2="434.0" stroke="#d9d9d9" stroke-width="0.8"/>
<line x1="189.77" y1="429.4" x2="189.77" y2="434.0" stroke="#d9d9d9" stroke-width="0.8"/>
<line x1="195.24" y1="429.4" x2="195.24" y2="431.8" stroke="#d9d9d9" stroke-width="0.8"/>
<line x1="200.71" y1="429.4" x2="200.71" y2="431.8" stroke="#d9d9d9" stroke-width="0.8"/>
<line x1="206.18" y1="429.4" x2="206.18" y2="431.8" stroke="#d9d9d9" stroke-width="0.8"/>
<line x1="211.64" y1="429.4" x2="211.64" y2="431.8" stroke="#d9d9d9" stroke-width="0.8"/>
<line x1="217.11" y1="429.4" x2="217.11" y2="431.8" stroke="#d9d9d9" stroke-width="0.8"/>
<line x1="222.58" y1="429.4" x2="222.58" y2="431.8" stroke="#d9d9d9" stroke-width="0.8"/>
<line x1="228.05" y1="429.4" x2="228.05" y2="431.8" stroke="#d9d9d9" stroke-width="0.8"/>
<line x1="233.52" y1="429.4" x2="233.52" y2="431.8" stroke="#d9d9d9" stroke-width="0.8"/>
<line x1="238.99" y1="429.4" x2="238.99" y2="431.8" stroke="#d9d9d9" stroke-width="0.8"/>
<line x1="244.46" y1="429.4" x2="244.46" y2="431.8" stroke="#d9d9d9" stroke-width="0.8"/>
<line x1="249.93" y1="429.4" x2="249.93" y2="431.8" stroke="#d9d9d9" stroke-width="0.8"/>
<line x1="255.39" y1="429.4" x2="255.39" y2="431.8" stroke="#d9d9d9" stroke-width="0.8"/>
<line x1="260.86" y1="429.4" x2="260.86" y2="431.8" stroke="#d9d9d9" stroke-width="0.8"/>
<line x1="266.33" y1="429.4" x2="266.33" y2="431.8" stroke="#d9d9d9" stroke-width="0.8"/>
<line x1="271.80" y1="429.4" x2="271.80" y2="431.8" stroke="#d9d9d9" stroke-width="0.8"/>
<line x1="277.27" y1="429.4" x2="277.27" y2="431.8" stroke="#d9d9d9" stroke-width="0.8"/>
<line x1="282.74" y1="429.4" x2="282.74" y2="431.8" stroke="#d9d9d9" stroke-width="0.8"/>
<line x1="288.21" y1="429.4" x2="288.21" y2="431.8" stroke="#d9d9d9" stroke-width="0.8"/>
<line x1="293.68" y1="429.4" x2="293.68" y2="431.3" stroke="#d9d9d9" stroke-width="0.8"/>
<line x1="299.15" y1="429.4" x2="299.15" y2="430.6" stroke="#d9d9d9" stroke-width="0.8"/>
<line x1="304.61" y1="429.4" x2="304.61" y2="430.4" stroke="#d9d9d9" stroke-width="0.8"/>
<line x1="310.08" y1="429.4" x2="310.08" y2="430.2" stroke="#d9d9d9" stroke-width="0.8"/>
<line x1="315.55" y1="429.4" x2="315.55" y2="430.1" stroke="#d9d9d9" stroke-width="0.8"/>
<line x1="321.02" y1="429.4" x2="321.02" y2="429.8" stroke="#d9d9d9" stroke-width="0.8"/>
<line x1="326.49" y1="429.0" x2="326.49" y2="430.3" stroke="#e6e6e6" stroke-width="0.8"/>
<line x1="331.96" y1="428.4" x2="331.96" y2="430.3" stroke="#e6e6e6" stroke-width="0.8"/>
<line x1="337.43" y1="428.4" x2="337.43" y2="430.3" stroke="#e6e6e6" stroke-width="0.8"/>
<line x1="342.90" y1="428.4" x2="342.90" y2="430.3" stroke="#e6e6e6" stroke-width="0.8"/>
<line x1="348.36" y1="428.4" x2="348.36" y2="430.3" stroke="#e6e6e6" stroke-width="0.8"/>
<line x1="353.83" y1="428.4" x2="353.83" y2="430.3" stroke="#e6e6e6" stroke-width="0.8"/>
<line x1="359.30" y1="428.4" x2="359.30" y2="430.3" stroke="#e6e6e6" stroke-width="0.8"/>
<line x1="364.77" y1="428.4" x2="364.77" y2="430.3" stroke="#e6e6e6" stroke-width="0.8"/>
<line x1="370.24" y1="428.4" x2="370.24" y2="430.3" stroke="#e6e6e6" stroke-width="0.8"/>
<line x1="375.71" y1="428.4" x2="375.71" y2="430.3" stroke="#e6e6e6" stroke-width="0.8"/>
<line x1="381.18" y1="428.4" x2="381.18" y2="430.3" stroke="#e6e6e6" stroke-width="0.8"/>
<line x1="386.65" y1="428.4" x2="386.65" y2="430.3" stroke="#e6e6e6" stroke-width="0.8"/>
<line x1="392.11" y1="428.4" x2="392.11" y2="430.3" stroke="#e6e6e6" stroke-width="0.8"/>
<line x1="397.58" y1="428.4" x2="397.58" y2="430.3" stroke="#e6e6e6" stroke-width="0.8"/>
<line x1="403.05" y1="428.3" x2="403.05" y2="430.3" stroke="#e6e6e6" stroke-width="0.8"/>
<line x1="408.52" y1="428.3" x2="408.52" y2="430.3" stroke="#e6e6e6" stroke-width="0.8"/>
<line x1="413.99" y1="428.3" x2="413.99" y2="430.3" stroke="#e6e6e6" stroke-width="0.8"/>
<line x1="419.46" y1="428.3" x2="419.46" y2="430.3" stroke="#e6e6e6" stroke-width="0.8"/>
<line x1="424.93" y1="428.3" x2="424.93" y2="430.3" stroke="#e6e6e6" stroke-width="0.8"/>
<line x1="430.40" y1="428.3" x2="430.40" y2="430.3" stroke="#e6e6e6" stroke-width="0.8"/>
<line x1="435.87" y1="428.3" x2="435.87" y2="430.3" stroke="#e6e6e6" stroke-width="0.8"/>
<line x1="441.33" y1="428.3" x2="441.33" y2="430.3" stroke="#e6e6e6" stroke-width="0.8"/>
<line x1="446.80" y1="428.3" x2="446.80" y2="430.3" stroke="#e6e6e6" stroke-width="0.8"/>
<line x1="452.27" y1="428.3" x2="452.27" y2="430.3" stroke="#e6e6e6" stroke-width="0.8"/>
<line x1="457.74" y1="428.3" x2="457.74" y2="430.3" stroke="#e6e6e6" stroke-width="0.8"/>
<line x1="463.21" y1="428.3" x2="463.21" y2="430.3" stroke="#e6e6e6" stroke-width="0.8"/>
<line x1="468.68" y1="428.3" x2="468.68" y2="430.3" stroke="#e6e6e6" stroke-width="0.8"/>
<line x1="474.15" y1="428.3" x2="474.15" y2="430.3" stroke="#e6e6e6" stroke-width="0.8"/>
<line x1="479.62" y1="428.3" x2="479.62" y2="430.3" stroke="#e6e6e6" stroke-width="0.8"/>
<line x1="485.08" y1="428.3" x2="485.08" y2="430.3" stroke="#e6e6e6" stroke-width="0.8"/>
<line x1="490.55" y1="428.3" x2="490.55" y2="430.3" stroke="#e6e6e6" stroke-width="0.8"/>
<line x1="496.02" y1="428.3" x2="496.02" y2="430.3" stroke="#e6e6e6" stroke-width="0.8"/>
<line x1="501.49" y1="428.3" x2="501.49" y2="430.3" stroke="#e6e6e6" stroke-width="0.8"/>
<line x1="506.96" y1="428.3" x2="506.96" y2="430.3" stroke="#e6e6e6" stroke-width="0.8"/>
<line x1="512.43" y1="428.3" x2="512.43" y2="430.3" stroke="#e6e6e6" stroke-width="0.8"/>
<line x1="517.90" y1="428.3" x2="517.90" y2="430.3" stroke="#e6e6e6" stroke-width="0.8"/>
<line x1="523.37" y1="428.3" x2="523.37" y2="430.3" stroke="#e6e6e6" stroke-width="0.8"/>
<line x1="528.83" y1="428.3" x2="528.83" y2="430.3" stroke="#e6e6e6" stroke-width="0.8"/>
<line x1="534.30" y1="428.3" x2="534.30" y2="430.3" stroke="#e6e6e6" stroke-width="0.8"/>
<line x1="539.77" y1="428.2" x2="539.77" y2="430.3" stroke="#e6e6e6" stroke-width="0.8"/>
<line x1="545.24" y1="428.2" x2="545.24" y2="430.3" stroke="#e6e6e6" stroke-width="0.8"/>
<line x1="550.71" y1="428.2" x2="550.71" y2="430.3" stroke="#e6e6e6" stroke-width="0.8"/>
<line x1="556.18" y1="428.2" x2="556.18" y2="430.3" stroke="#e6e6e6" stroke-width="0.8"/>
<line x1="561.65" y1="428.2" x2="561.65" y2="430.3" stroke="#e6e6e6" stroke-width="0.8"/>
<line x1="567.12" y1="428.2" x2="567.12" y2="430.3" stroke="#e6e6e6" stroke-width="0.8"/>
<line x1="572.59" y1="428.2" x2="572.59" y2="430.3" stroke="#e6e6e6" stroke-width="0.8"/>
<line x1="578.05" y1="428.2" x2="578.05" y2="430.3" stroke="#e6e6e6" stroke-width="0.8"/>
<line x1="583.52" y1="428.2" x2="583.52" y2="430.3" stroke="#e6e6e6" stroke-width="0.8"/>
<line x1="588.99" y1="428.2" x2="588.99" y2="430.3" stroke="#e6e6e6" stroke-width="0.8"/>
<line x1="594.46" y1="428.2" x2="594.46" y2="430.3" stroke="#e6e6e6" stroke-width="0.8"/>
<line x1="599.93" y1="428.2" x2="599.93" y2="430.3" stroke="#e6e6e6" stroke-width="0.8"/>
<line x1="605.40" y1="428.2" x2="605.40" y2="430.3" stroke="#e6e6e6" stroke-width="0.8"/>
<line x1="610.87" y1="428.2" x2="610.87" y2="430.3" stroke="#e6e6e6" stroke-width="0.8"/>
<line x1="616.34" y1="428.2" x2="616.34" y2="430.3" stroke="#e6e6e6" stroke-width="0.8"/>
<line x1="621.80" y1="428.2" x2="621.80" y2="430.3" stroke="#e6e6e6" stroke-width="0.8"/>
<line x1="627.27" y1="428.2" x2="627.27" y2="430.3" stroke="#e6e6e6" stroke-width="0.8"/>
<line x1="632.74" y1="428.2" x2="632.74" y2="430.3" stroke="#e6e6e6" stroke-width="0.8"/>
<line x1="638.21" y1="428.2" x2="638.21" y2="430.3" stroke="#e6e6e6" stroke-width="0.8"/>
<line x1="643.68" y1="428.2" x2="643.68" y2="430.3" stroke="#e6e6e6" stroke-width="0.8"/>
<line x1="649.15" y1="428.2" x2="649.15" y2="430.3" stroke="#e6e6e6" stroke-width="0.8"/>
<line x1="654.62" y1="428.2" x2="654.62" y2="430.3" stroke="#e6e6e6" stroke-width="0.8"/>
<line x1="660.09" y1="428.2" x2="660.09" y2="430.3" stroke="#e6e6e6" stroke-width="0.8"/>
<line x1="665.55" y1="428.2" x2="665.55" y2="430.3" stroke="#e6e6e6" stroke-width="0.8"/>
<line x1="671.02" y1="428.2" x2="671.02" y2="430.3" stroke="#e6e6e6" stroke-width="0.8"/>
<line x1="676.49" y1="428.2" x2="676.49" y2="430.3" stroke="#e6e6e6" stroke-width="0.8"/>
<line x1="681.96" y1="428.1" x2="681.96" y2="430.3" stroke="#e6e6e6" stroke-width="0.8"/>
<line x1="687.43" y1="428.1" x2="687.43" y2="430.3" stroke="#e6e6e6" stroke-width="0.8"/>
<line x1="692.90" y1="428.1" x2="692.90" y2="430.3" stroke="#e6e6e6" stroke-width="0.8"/>
<line x1="698.37" y1="428.1" x2="698.37" y2="430.3" stroke="#e6e6e6" stroke-width="0.8"/>
<line x1="703.84" y1="428.1" x2="703.84" y2="430.3" stroke="#e6e6e6" stroke-width="0.8"/>
<line x1="709.31" y1="428.1" x2="709.31" y2="430.3" stroke="#e6e6e6" stroke-width="0.8"/>
<line x1="714.77" y1="428.1" x2="714.77" y2="430.3" stroke="#e6e6e6" stroke-width="0.8"/>
<line x1="720.24" y1="428.1" x2="720.24" y2="430.3" stroke="#e6e6e6" stroke-width="0.8"/>
<line x1="725.71" y1="428.1" x2="725.71" y2="430.3" stroke="#e6e6e6" stroke-width="0.8"/>
<line x1="731.18" y1="428.1" x2="731.18" y2="430.3" stroke="#e6e6e6" stroke-width="0.8"/>
<line x1="736.65" y1="428.1" x2="736.65" y2="430.3" stroke="#e6e6e6" stroke-width="0.8"/>
<line x1="742.12" y1="428.1" x2="742.12" y2="430.3" stroke="#e6e6e6" stroke-width="0.8"/>
<line x1="747.59" y1="428.1" x2="747.59" y2="430.3" stroke="#e6e6e6" stroke-width="0.8"/>
<line x1="753.06" y1="428.1" x2="753.06" y2="430.3" stroke="#e6e6e6" stroke-width="0.8"/>
<line x1="758.52" y1="428.1" x2="758.52" y2="430.3" stroke="#e6e6e6" stroke-width="0.8"/>
<line x1="763.99" y1="428.1" x2="763.99" y2="430.3" stroke="#e6e6e6" stroke-width="0.8"/>
<line x1="769.46" y1="428.1" x2="769.46" y2="430.3" stroke="#e6e6e6" stroke-width="0.8"/>
<line x1="774.93" y1="428.1" x2="774.93" y2="430.3" stroke="#e6e6e6" stroke-width="0.8"/>
<line x1="780.40" y1="428.1" x2="780.40" y2="430.3" stroke="#e6e6e6" stroke-width="0.8"/>
<line x1="785.87" y1="428.1" x2="785.87" y2="430.3" stroke="#e6e6e6" stroke-width="0.8"/>
<line x1="791.34" y1="428.1" x2="791.34" y2="430.3" stroke="#e6e6e6" stroke-width="0.8"/>
<line x1="796.81" y1="428.1" x2="796.81" y2="430.3" stroke="#e6e6e6" stroke-width="0.8"/>
<line x1="802.27" y1="428.1" x2="802.27" y2="430.3" stroke="#e6e6e6" stroke-width="0.8"/>
<line x1="807.74" y1="428.1" x2="807.74" y2="430.3" stroke="#e6e6e6" stroke-width="0.8"/>
<line x1="813.21" y1="428.1" x2="813.21" y2="430.3" stroke="#e6e6e6" stroke-width="0.8"/>
<line x1="818.68" y1="428.0" x2="818.68" y2="430.3" stroke="#e6e6e6" stroke-width="0.8"/>
<line x1="824.15" y1="428.0" x2="824.15" y2="430.3" stroke="#e6e6e6" stroke-width="0.8"/>
<line x1="829.62" y1="428.0" x2="829.62" y2="430.3" stroke="#e6e6e6" stroke-width="0.8"/>
<line x1="835.09" y1="428.0" x2="835.09" y2="430.3" stroke="#e6e6e6" stroke-width="0.8"/>
<line x1="840.56" y1="428.0" x2="840.56" y2="430.3" stroke="#e6e6e6" stroke-width="0.8"/>
<line x1="846.03" y1="428.0" x2="846.03" y2="430.3" stroke="#e6e6e6" stroke-width="0.8"/>
<line x1="851.49" y1="428.0" x2="851.49" y2="430.3" stroke="#e6e6e6" stroke-width="0.8"/>
<line x1="856.96" y1="428.0" x2="856.96" y2="430.3" stroke="#e6e6e6" stroke-width="0.8"/>
<line x1="862.43" y1="428.0" x2="862.43" y2="430.3" stroke="#e6e6e6" stroke-width="0.8"/>
<line x1="867.90" y1="428.0" x2="867.90" y2="430.3" stroke="#e6e6e6" stroke-width="0.8"/>
<line x1="873.37" y1="428.0" x2="873.37" y2="430.3" stroke="#e6e6e6" stroke-width="0.8"/>
<line x1="878.84" y1="428.0" x2="878.84" y2="430.3" stroke="#e6e6e6" stroke-width="0.8"/>
<line x1="884.31" y1="428.0" x2="884.31" y2="430.3" stroke="#e6e6e6" stroke-width="0.8"/>
<line x1="889.78" y1="428.0" x2="889.78" y2="430.3" stroke="#e6e6e6" stroke-width="0.8"/>
<polyline points="3.8,433.0 9.3,433.0 14.8,433.0 20.2,433.0 25.7,433.0 31.2,433.0 36.6,433.0 42.1,433.0 47.6,433.0 53.0,433.0 58.5,433.1 64.0,433.1 69.5,433.1 74.9,433.1 80.4,433.1 85.9,433.1 91.3,433.1 96.8,433.1 102.3,433.1 107.7,433.1 113.2,433.2 118.7,433.4 124.1,433.8 129.6,434.2 135.1,434.6 140.6,434.9 146.0,434.9 151.5,434.9 157.0,435.0 162.4,435.0 167.9,435.0 173.4,434.7 178.8,434.2 184.3,434.2 189.8,434.2 195.2,433.2 200.7,433.2 206.2,433.2 211.6,433.2 217.1,433.2 222.6,433.2 228.1,433.2 233.5,433.1 239.0,433.1 244.5,433.1 249.9,433.1 255.4,433.1 260.9,433.1 266.3,433.5 271.8,433.9 277.3,433.7 282.7,433.3 288.2,433.0 293.7,432.7 299.1,432.4 304.6,431.6 310.1,430.7 315.6,430.3 321.0,430.0 326.5,429.6 332.0,429.4 337.4,429.4 342.9,429.3 348.4,429.3 353.8,429.2 359.3,429.2 364.8,429.0 370.2,428.8 375.7,428.6 381.2,428.3 386.6,428.1 392.1,427.9 397.6,427.6 403.1,427.5 408.5,427.5 414.0,427.5 419.5,427.5 424.9,427.5 430.4,427.5 435.9,427.5 441.3,427.3 446.8,426.6 452.3,426.6 457.7,426.6 463.2,426.6 468.7,426.6 474.1,426.6 479.6,426.6 485.1,426.6 490.6,427.3 496.0,427.5 501.5,427.6 507.0,427.6 512.4,427.8 517.9,428.2 523.4,428.4 528.8,428.4 534.3,428.4 539.8,428.4 545.2,428.4 550.7,428.4 556.2,428.4 561.6,428.2 567.1,427.6 572.6,427.7 578.1,427.7 583.5,427.8 589.0,427.9 594.5,427.9 599.9,428.0 605.4,428.2 610.9,428.4 616.3,428.1 621.8,427.6 627.3,427.2 632.7,426.7 638.2,426.7 643.7,426.7 649.1,426.7 654.6,426.7 660.1,426.7 665.6,426.7 671.0,426.7 676.5,426.7 682.0,426.7 687.4,426.7 692.9,426.7 698.4,426.7 703.8,427.0 709.3,427.4 714.8,427.6 720.2,427.8 725.7,427.9 731.2,427.9 736.6,427.9 742.1,427.9 747.6,427.9 753.1,427.9 758.5,427.9 764.0,427.9 769.5,427.9 774.9,427.9 780.4,427.9 785.9,427.4 791.3,427.3 796.8,427.3 802.3,427.3 807.7,427.3 813.2,427.6 818.7,428.0 824.1,428.4 829.6,428.7 835.1,428.7 840.6,428.7 846.0,428.7 851.5,428.7 857.0,428.7 862.4,428.8 867.9,428.8 873.4,428.8 878.8,428.8 884.3,428.8 887.3,428.8" fill="none" stroke="#1f861f" stroke-width="0.95" stroke-dasharray="2.05 2.05"/>
</g>
<text class="ax" x="6.8" y="433.3" textLength="80.2" lengthAdjust="spacingAndGlyphs">MACD(12,26,9) 10.02 18.70</text>
<rect x="906" y="426.2" width="1.4" height="0.8" fill="#3c3c3c"/>
<rect x="906" y="430.2" width="1.4" height="0.8" fill="#3c3c3c"/>
<text class="ax" x="909.0" y="430.2" textLength="17.5" lengthAdjust="spacingAndGlyphs">189.93</text>
<text class="ax" x="910.5" y="430.8" textLength="12.5" lengthAdjust="spacingAndGlyphs">0.00</text>
<text class="ax" x="909.0" y="433.9" textLength="19.8" lengthAdjust="spacingAndGlyphs">-125.38</text>
</svg></body></html>
